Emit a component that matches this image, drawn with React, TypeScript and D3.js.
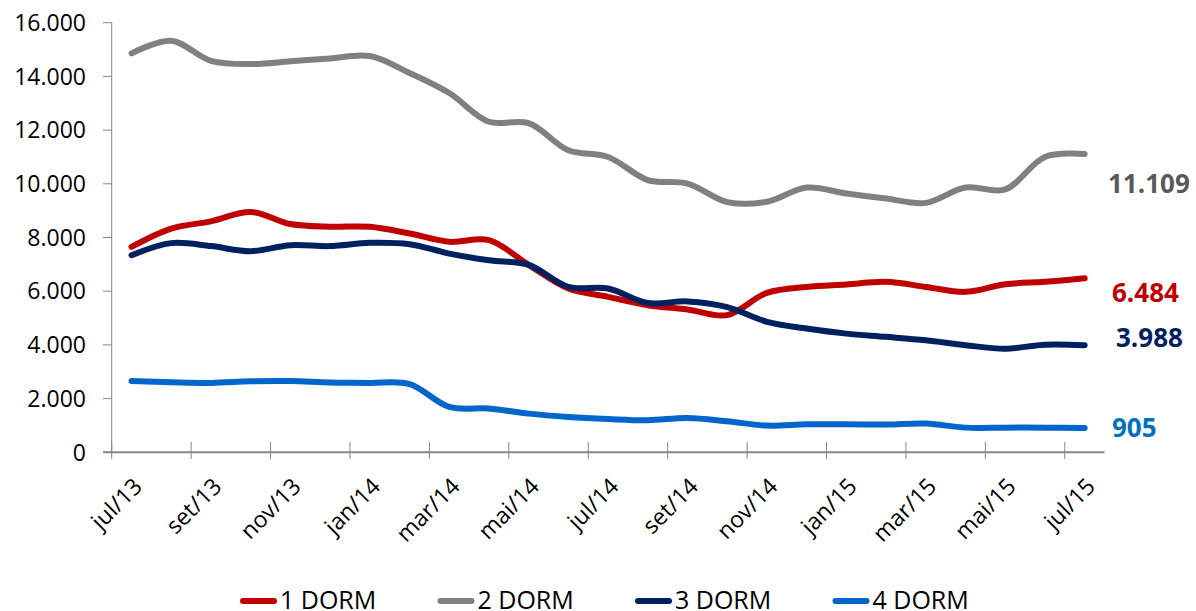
import React from "react";
import * as d3 from "d3";

const categories = [
  "jul/13", "ago/13", "set/13", "out/13", "nov/13", "dez/13",
  "jan/14", "fev/14", "mar/14", "abr/14", "mai/14", "jun/14",
  "jul/14", "ago/14", "set/14", "out/14", "nov/14", "dez/14",
  "jan/15", "fev/15", "mar/15", "abr/15", "mai/15", "jun/15", "jul/15",
];

const dorm1 = [7650, 8330, 8600, 8950, 8500, 8400, 8400, 8150, 7840, 7900, 6980, 6100,
  5790, 5480, 5320, 5110, 5940, 6160, 6250, 6350, 6160, 5975, 6260, 6350, 6484];
const dorm2 = [14860, 15330, 14580, 14460, 14560, 14670, 14760, 14130, 13380, 12310, 12260, 11250,
  11000, 10140, 10010, 9320, 9330, 9860, 9640, 9450, 9290, 9860, 9790, 11000, 11109];
const dorm3 = [7340, 7790, 7680, 7490, 7710, 7680, 7800, 7750, 7400, 7150, 6980, 6160,
  6100, 5560, 5620, 5410, 4860, 4610, 4420, 4300, 4170, 3990, 3860, 4010, 3988];
const dorm4 = [2657, 2610, 2585, 2645, 2655, 2600, 2585, 2540, 1690, 1630, 1440, 1317,
  1240, 1193, 1280, 1156, 994, 1044, 1044, 1032, 1069, 919, 919, 919, 905];

const seriesNames = ["1 DORM", "2 DORM", "3 DORM", "4 DORM"];
const seriesValues = [dorm1, dorm2, dorm3, dorm4];
const seriesColors = ["#C00000", "#808080", "#002060", "#0066CC"];
const labelColors = ["#C00000", "#595959", "#002060", "#0070C0"];
const labelOffsets = [[1112, 293], [1108, 184], [1116, 338], [1112, 428]];

const yTicks = [0, 2000, 4000, 6000, 8000, 10000, 12000, 14000, 16000];

const FONT = "'Open Sans', sans-serif";
const fmt = (v: number) => d3.format(",")(v).replace(/,/g, ".");

export default function App() {
  const width = 1196;
  const height = 611;
  const x = d3.scaleBand<string>().domain(categories).range([111.7, 1104.5]).paddingInner(0).paddingOuter(0);
  const y = d3.scaleLinear().domain([0, 16000]).range([452.3, 22.7]);
  const bw = x.bandwidth();
  const cx = (c: string) => (x(c) as number) + bw / 2;

  const line = d3
    .line<number>()
    .x((_, i) => cx(categories[i]))
    .y((d) => y(d))
    .curve(d3.curveCatmullRom.alpha(0.5));

  const tickCats = categories.filter((_, i) => i % 2 === 0);

  return (
    <svg
      width={width}
      height={height}
      style={{ position: "absolute", left: 0, top: 0, background: "#fff" }}
      fontFamily={FONT}
    >
      {/* y axis */}
      <line x1={111.7} x2={111.7} y1={y(16000)} y2={y(0)} stroke="#868686" strokeWidth={1} />
      {yTicks.map((t) => (
        <g key={t}>
          <line x1={103} x2={111.7} y1={y(t)} y2={y(t)} stroke="#868686" strokeWidth={1} />
          <text x={86} y={y(t)} dy="0.36em" textAnchor="end" fontSize={23} fill="#000">
            {fmt(t)}
          </text>
        </g>
      ))}
      {/* x axis */}
      <line x1={103} x2={1104.5} y1={y(0)} y2={y(0)} stroke="#868686" strokeWidth={2} />
      {tickCats.map((c) => (
        <line key={"t" + c} x1={x(c) as number} x2={x(c) as number} y1={442} y2={459} stroke="#868686" strokeWidth={1} />
      ))}
      {tickCats.map((c) => (
        <text
          key={"l" + c}
          transform={`translate(${cx(c) + 12},${488}) rotate(-45)`}
          textAnchor="end"
          fontSize={23}
          fill="#000"
        >
          {c}
        </text>
      ))}
      {/* series */}
      {seriesValues.map((vals, si) => (
        <path
          key={seriesNames[si]}
          d={line(vals) || ""}
          fill="none"
          stroke={seriesColors[si]}
          strokeWidth={6}
          strokeLinecap="round"
          strokeLinejoin="round"
        />
      ))}
      {/* end labels */}
      {seriesValues.map((vals, si) => (
        <text
          key={"e" + si}
          x={labelOffsets[si][0]}
          y={labelOffsets[si][1]}
          dy="0.36em"
          fontSize={26}
          fontWeight="bold"
          fill={labelColors[si]}
        >
          {fmt(vals[vals.length - 1])}
        </text>
      ))}
      {/* legend */}
      {seriesNames.map((n, si) => {
        const lx = 240 + si * 197.5;
        return (
          <g key={"lg" + n}>
            <line x1={lx + 3} x2={lx + 34} y1={601} y2={601} stroke={seriesColors[si]} strokeWidth={6} strokeLinecap="round" />
            <text x={lx + 40} y={609} fontSize={25} fill="#000">
              {n}
            </text>
          </g>
        );
      })}
    </svg>
  );
}
